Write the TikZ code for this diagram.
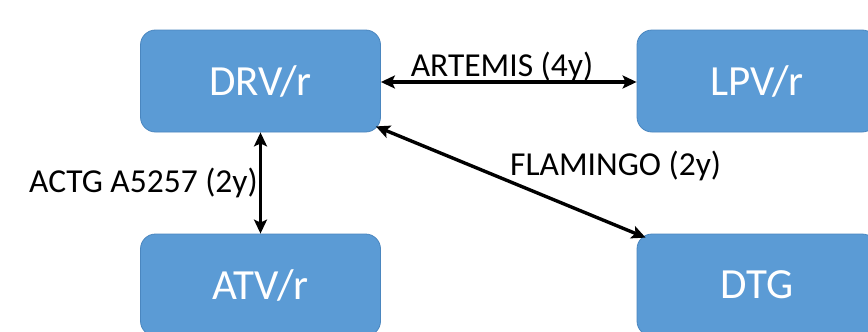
\documentclass[tikz,border=0pt]{standalone}
\usepackage{fontspec}
\setmainfont{Carlito}
\usetikzlibrary{arrows.meta,calc}
\definecolor{boxfill}{HTML}{5B9BD5}
\definecolor{boxline}{HTML}{4A86BF}
\tikzset{
  box/.style={draw=boxline, line width=0.8pt, fill=boxfill, rounded corners=15pt,
    minimum width=240pt, minimum height=102pt, inner sep=0pt,
    text=white, font=\fontsize{43}{43}\selectfont},
  lbl/.style={text=black, font=\fontsize{33.5}{33.5}\selectfont, inner sep=0pt},
  link/.style={line width=3.4pt, {Stealth[length=14pt,width=13pt,inset=3pt]}-{Stealth[length=14pt,width=13pt,inset=3pt]}}
}
\begin{document}
\begin{tikzpicture}[x=1pt,y=-1pt]
\path[use as bounding box, clip] (0,0) rectangle (868,332);
\fill[white] (0,0) rectangle (868,332);
\node[box] (drv) at (260.5,81) {DRV/r};
\node[box] (lpv) at (757,81) {LPV/r};
\node[box] (atv) at (260.5,285) {ATV/r};
\node[box] (dtg) at (757,285) {DTG};
\draw[link] ($(drv.east)+(0,1)$) -- ($(lpv.west)+(0,1)$);
\draw[link] (drv.south) -- (atv.north);
\coordinate (d1) at ($(drv.south east)+(-5,-6)$);
\coordinate (d2) at ($(dtg.north west)+(9,4)$);
\draw[link] (d1) -- (d2);
\node[lbl, anchor=center] (artemis) at (502,67) {ARTEMIS (4y)};
\node[lbl, anchor=east] (actg) at (258,183) {ACTG A5257 (2y)};
\node[lbl, anchor=west] (flam) at (510,166) {FLAMINGO (2y)};
\end{tikzpicture}
\end{document}
